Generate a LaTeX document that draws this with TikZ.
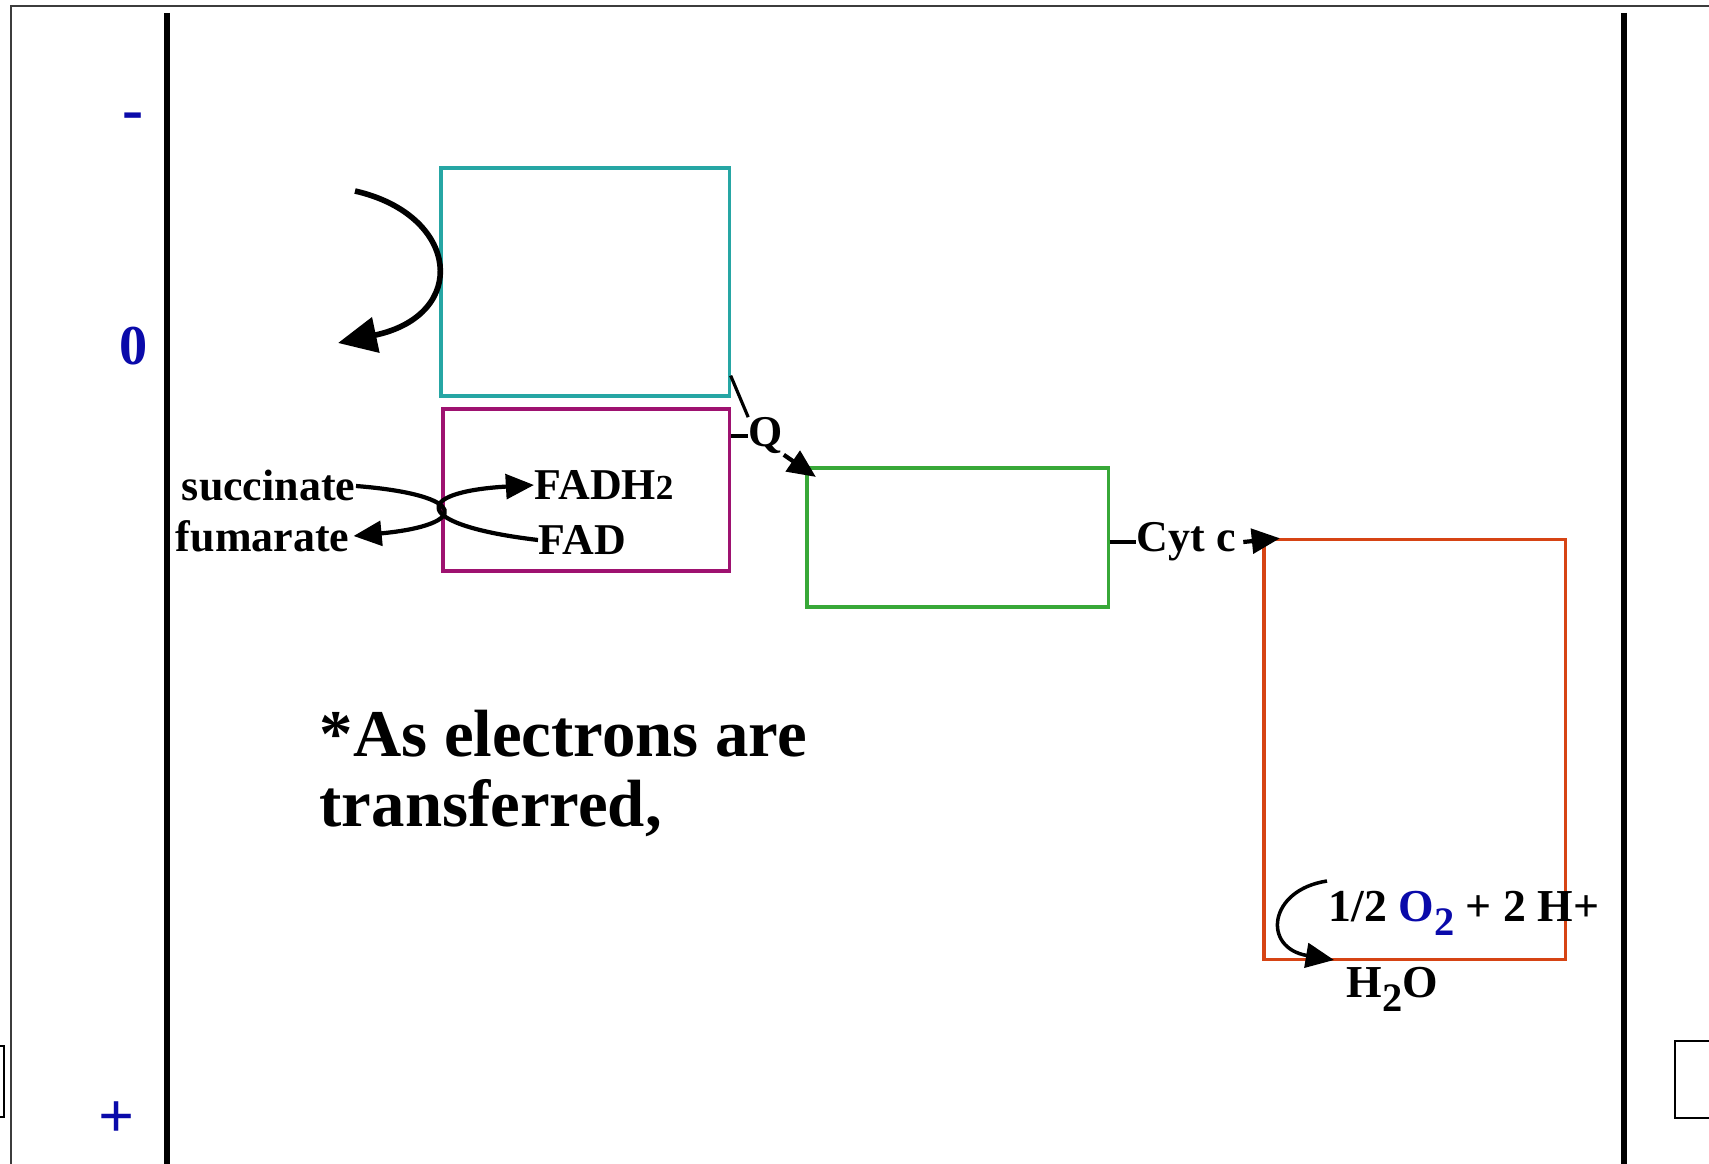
\documentclass[tikz,border=0pt]{standalone}
\usepackage{fontspec}
\setmainfont{Liberation Serif}
\usetikzlibrary{arrows.meta,calc}
\definecolor{cteal}{RGB}{38,166,164}
\definecolor{cmag}{RGB}{158,18,112}
\definecolor{cgreen}{RGB}{56,168,56}
\definecolor{cred}{RGB}{214,68,20}
\definecolor{cblue}{RGB}{10,10,170}
\definecolor{cframe}{RGB}{60,60,60}
\begin{document}
\begin{tikzpicture}[x=0.01cm,y=-0.01cm,
  box/.style={draw,rectangle,inner sep=0pt,line width=0.9pt},
  lbl/.style={font=\fontsize{12.5}{14}\selectfont\bfseries,inner sep=0pt},
  axislbl/.style={font=\fontsize{16}{18}\selectfont\bfseries,text=cblue,inner sep=0pt},
  wall/.style={line width=1.6pt},
  tip/.style={-{Triangle[length=8pt,width=7pt]}},
  conn/.style={line width=0.9pt}]
\useasboundingbox (0,0) rectangle (1709,1164);
\fill[white] (0,0) rectangle (1709,1164);
% frame and walls
\draw[cframe,line width=0.6pt] (11,1170) -- (11,6) -- (1715,6);
\draw[wall] (167,13) -- (167,1170);
\draw[wall] (1624,13) -- (1624,1170);
\draw[line width=0.6pt] (-5,1046) rectangle (4,1117);
\draw[line width=0.6pt] (1675,1041) rectangle (1715,1118);
% axis labels
\node[axislbl,font=\fontsize{18}{18}\selectfont\bfseries] (minus) at (133,122) {-};
\node[axislbl] (zero) at (134,346) {0};
\node[axislbl,font=\fontsize{18}{18}\selectfont\bfseries] (plus) at (117,1120) {+};
% boxes
\node[box,draw=cteal,minimum width=2.88cm,minimum height=2.28cm] (c1) at (585,282) {};
\node[box,draw=cmag,minimum width=2.86cm,minimum height=1.62cm] (c2) at (586,490) {};
\node[box,draw=cgreen,minimum width=3.01cm,minimum height=1.39cm] (c3) at (957.5,537.5) {};
\node[box,draw=cred,minimum width=3.01cm,minimum height=4.19cm] (c4) at (1414.5,749.5) {};
% top-left curved arrow
\coordinate (a1s) at (355,191);
\coordinate (a1e) at (338,343);
\draw[line width=1.6pt,-{Triangle[length=11pt,width=10pt]}] (a1s) .. controls (460,215) and (470,315) .. (a1e);
% succinate / FAD
\node[lbl,anchor=east] (succ) at (356,486) {succinate};
\node[lbl,anchor=east] (fum) at (350,536) {fumarate};
\node[lbl,anchor=west] (fadh) at (534,485) {FADH{\fontsize{10}{10}\selectfont 2}};
\node[lbl,anchor=west] (fad) at (538,540) {FAD};
\draw[line width=1.2pt,tip] (succ.east) .. controls (470,495) and (470,525) .. ([xshift=1pt]fum.east);
\draw[line width=1.2pt,tip] (fad.west) .. controls (411,525) and (411,492) .. (fadh.west);
% Q
\node[lbl] (q) at (766,436) {Q};
\draw[conn] ([yshift=0.22cm]c1.south east) -- (q.north west);
\draw[conn] (c2.east |- q.west) -- (q.west);
\draw[line width=1.2pt,tip] (q.south east) -- ([xshift=3pt,yshift=-3pt]c3.north west);
% Cyt c
\node[lbl,anchor=west] (cyt) at (1136,542) {Cyt c};
\draw[line width=1.2pt] (c3.east |- cyt.west) -- (cyt.west);
\draw[line width=1.2pt,tip] ([xshift=2pt]cyt.east) -- ([xshift=5pt]c4.north west);
% oxygen
\node[lbl,font=\fontsize{13}{14}\selectfont\bfseries,anchor=base west] (oxy) at (1328,921)
  {1/2 {\color{cblue}O\raisebox{-4pt}{\fontsize{11.5}{12}\selectfont 2}} + 2 H+};
\node[lbl,font=\fontsize{13}{14}\selectfont\bfseries,anchor=base west] (water) at (1346,997)
  {H\raisebox{-4pt}{\fontsize{11.5}{12}\selectfont 2}O};
\coordinate (o2s) at (1327,881);
\coordinate (o2e) at (1334,960);
\draw[line width=1pt,tip] (o2s) .. controls (1268,890) and (1262,948) .. (o2e);
% note
\node[font=\fontsize{19}{20}\selectfont\bfseries,align=left,anchor=north west,inner sep=0pt] (note) at (319,709)
  {*As electrons are\\transferred,};
\end{tikzpicture}
\end{document}
